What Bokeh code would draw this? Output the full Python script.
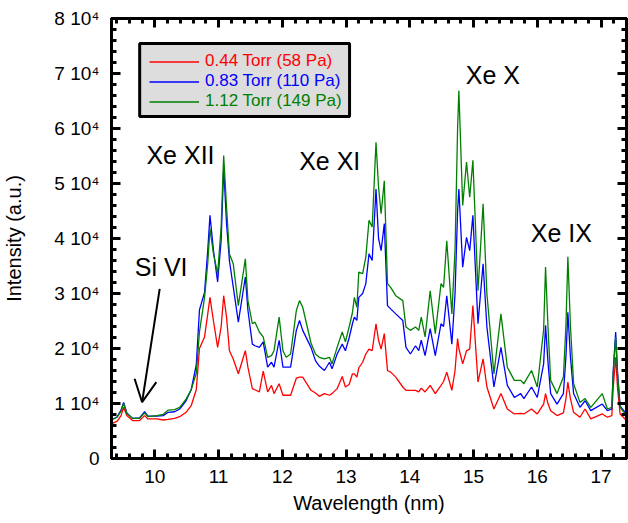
from bokeh.plotting import figure
from bokeh.models import (Range1d, SingleIntervalTicker, LinearAxis, Legend, LegendItem,
                          Label, Arrow, OpenHead, CustomJSTickFormatter, BoxAnnotation)
from bokeh.embed import file_html
from bokeh.resources import INLINE

# EUV emission spectra of a xenon discharge at three pressures
wavelength = [
    9.32, 9.41, 9.47, 9.51, 9.56, 9.65, 9.76, 9.84, 9.89, 10.03,
    10.13, 10.21, 10.31, 10.39, 10.49, 10.57, 10.65, 10.70, 10.78, 10.83,
    10.865, 10.92, 10.985, 11.04, 11.08, 11.125, 11.17, 11.23, 11.31, 11.42,
    11.46, 11.53, 11.57, 11.64, 11.70, 11.77, 11.83, 11.87, 11.95, 12.01,
    12.06, 12.13, 12.22, 12.27, 12.32, 12.45, 12.52, 12.58, 12.66, 12.74,
    12.78, 12.86, 12.94, 12.99, 13.05, 13.10, 13.13, 13.17, 13.20, 13.26,
    13.31, 13.36, 13.41, 13.47, 13.51, 13.55, 13.60, 13.65, 13.70, 13.78,
    13.89, 13.94, 14.01, 14.09, 14.14, 14.18, 14.24, 14.32, 14.40, 14.49,
    14.53, 14.58, 14.66, 14.71, 14.75, 14.77, 14.83, 14.89, 14.94, 14.99,
    15.07, 15.15, 15.21, 15.32, 15.43, 15.53, 15.64, 15.74, 15.79, 15.91,
    16.00, 16.10, 16.13, 16.17, 16.21, 16.31, 16.41, 16.45, 16.48, 16.52,
    16.57, 16.67, 16.75, 16.84, 17.02, 17.10, 17.17, 17.19, 17.23, 17.26,
    17.30, 17.40,
]

intensity_044_torr = [
    6300, 6800, 7800, 9300, 7800, 6900, 6900, 7800, 7200, 7200,
    7000, 7100, 7300, 7600, 8400, 9600, 12500, 20000, 22100, 26300,
    29300, 25000, 20200, 23900, 29600, 25700, 19600, 18100, 15400, 19600,
    16600, 12700, 12500, 12100, 15900, 12100, 13300, 11800, 13600, 11500,
    11500, 11500, 14600, 14800, 14800, 12400, 11900, 11300, 11800, 11500,
    11800, 12700, 14900, 13000, 13500, 15400, 15400, 14800, 16500, 17500,
    19000, 19900, 19600, 24500, 21500, 19900, 22700, 16000, 15700, 14800,
    13000, 12400, 12400, 12400, 12100, 12800, 12100, 13300, 11800, 13300,
    14000, 15700, 12400, 16000, 21800, 20000, 17200, 19600, 19900, 27800,
    13900, 18100, 13000, 9000, 11800, 9000, 8100, 8200, 8100, 9000,
    8100, 9900, 11800, 9900, 8700, 7800, 8300, 10900, 13900, 10900,
    8400, 7500, 9000, 7200, 8100, 7500, 7800, 12700, 18400, 12700,
    8100, 6900,
]

intensity_083_torr = [
    7000, 7600, 8800, 10200, 8300, 7300, 7400, 8500, 7700, 7700,
    7800, 8400, 8500, 9000, 10500, 12500, 17000, 27000, 30200, 37800,
    44200, 37800, 32100, 39600, 53000, 42700, 36000, 31200, 24800, 33000,
    27000, 20800, 20500, 20200, 21200, 16600, 17500, 16600, 21500, 16600,
    16600, 16600, 23300, 25100, 23300, 20200, 17800, 16800, 16000, 17500,
    16300, 19000, 20800, 19600, 22000, 24500, 25700, 25100, 29300, 30000,
    31800, 37200, 36000, 49000, 40000, 37800, 42700, 27800, 27200, 26300,
    25100, 20200, 19000, 20500, 19600, 21500, 18700, 23600, 18700, 24500,
    24000, 29600, 20800, 30000, 45000, 49000, 34800, 40200, 37800, 44200,
    24500, 35400, 23900, 13000, 20200, 13300, 11100, 11800, 10900, 13000,
    11100, 17200, 24200, 17200, 11800, 9900, 11800, 18500, 26600, 18500,
    11800, 9300, 10500, 8700, 9900, 8700, 9000, 15600, 23000, 15600,
    9500, 8100,
]

intensity_112_torr = [
    7000, 7500, 8600, 10000, 8200, 7300, 7300, 8300, 7600, 7800,
    8000, 8800, 8900, 9300, 10800, 12500, 15500, 23000, 29300, 35500,
    41800, 37200, 33600, 42100, 55100, 45700, 37200, 35400, 27800, 36300,
    28700, 24500, 24800, 23000, 22100, 18400, 18700, 19600, 25700, 19600,
    18400, 19000, 26900, 28700, 27500, 21000, 19000, 18400, 18100, 18400,
    17200, 20200, 23000, 21200, 24000, 26500, 29300, 27500, 33900, 33600,
    36600, 43300, 42100, 57500, 49300, 44500, 50500, 31800, 31100, 29600,
    28700, 23900, 23300, 23900, 23300, 25700, 22100, 30500, 22700, 31800,
    31100, 39600, 26300, 38000, 60000, 66900, 46000, 53900, 47500, 54200,
    30500, 46300, 29900, 15400, 26300, 16600, 14200, 14200, 13600, 16000,
    13000, 23400, 34800, 23400, 14200, 11800, 14800, 24200, 36700, 24200,
    13600, 10200, 10900, 9300, 11800, 9000, 9300, 15100, 22100, 15100,
    9300, 7800,
]

series_labels = ["0.44 Torr (58 Pa)", "0.83 Torr (110 Pa)", "1.12 Torr (149 Pa)"]
series_colors = ["#FF0000", "#0000FF", "#008000"]

FONT = "Liberation Sans"

p = figure(width=628, height=523, output_backend="svg", toolbar_location=None,
           x_range=Range1d(9.32, 17.4), y_range=Range1d(0, 80000),
           x_axis_type=None, y_axis_type=None,
           min_border_left=110, min_border_right=2, min_border_top=18,
           min_border_bottom=65)
p.background_fill_color = "white"
p.border_fill_color = "white"
p.outline_line_color = "black"
p.outline_line_width = 3
p.xgrid.visible = False
p.ygrid.visible = False

x_ticker = SingleIntervalTicker(interval=1, num_minor_ticks=5)
y_ticker = SingleIntervalTicker(interval=10000, num_minor_ticks=5)
y_format = CustomJSTickFormatter(code="""
    if (tick == 0) { return "0"; }
    return (tick / 10000).toFixed(0) + " 10\u2074";
""")
blank = CustomJSTickFormatter(code="return '';")


def style_axis(ax):
    ax.axis_line_width = 3
    ax.major_tick_in = 9
    ax.major_tick_out = 0
    ax.minor_tick_in = 5
    ax.minor_tick_out = 0
    ax.major_tick_line_width = 3
    ax.minor_tick_line_width = 3
    ax.major_label_text_font = FONT
    ax.major_label_text_font_size = "19px"
    ax.major_label_text_color = "black"
    ax.axis_label_text_font = FONT
    ax.axis_label_text_font_size = "20px"
    ax.axis_label_text_font_style = "normal"
    ax.axis_label_text_color = "black"


xb = LinearAxis(ticker=x_ticker, axis_label="Wavelength (nm)")
style_axis(xb)
xb.major_label_standoff = 11
xb.axis_label_standoff = 6
p.add_layout(xb, "below")

yl = LinearAxis(ticker=y_ticker, formatter=y_format, axis_label="Intensity (a.u.)")
style_axis(yl)
yl.major_label_standoff = 12
yl.axis_label_standoff = 26
p.add_layout(yl, "left")

xt = LinearAxis(ticker=x_ticker, formatter=blank)
style_axis(xt)
xt.major_label_standoff = 0
xt.major_label_text_font_size = "0px"
p.add_layout(xt, "above")

yr = LinearAxis(ticker=y_ticker, formatter=blank)
style_axis(yr)
yr.major_label_standoff = 0
yr.major_label_text_font_size = "0px"
p.add_layout(yr, "right")

# grey legend panel with a heavy black frame
p.add_layout(BoxAnnotation(left=9.762, right=13.055, bottom=62180, top=75450,
                           fill_color="#DDDDDD", fill_alpha=1.0,
                           line_color="black", line_width=3, line_alpha=1.0,
                           level="underlay"))

renderers = []
for ys, col in zip([intensity_044_torr, intensity_083_torr, intensity_112_torr], series_colors):
    renderers.append(p.line(wavelength, ys, line_color=col, line_width=1.3))

# one legend row per series so each caption takes its line colour
row_bottoms = [387, 367, 347]
for lab, col, r, yb in zip(series_labels, series_colors, renderers, row_bottoms):
    p.add_layout(Legend(items=[LegendItem(label=lab, renderers=[r])],
                        location=(38, yb), orientation="vertical",
                        background_fill_alpha=0.0, border_line_alpha=0.0,
                        padding=0, margin=0, spacing=0, glyph_width=50, glyph_height=17,
                        label_standoff=6, label_height=17,
                        label_text_font=FONT, label_text_font_size="17px",
                        label_text_color=col), "center")

# ion stage annotations
for txt, xx, yy in [("Xe XII", 9.868, 55200), ("Xe XI", 12.264, 54100),
                    ("Xe X", 14.879, 69700), ("Xe IX", 15.897, 41000),
                    ("Si VI", 9.685, 34800)]:
    p.add_layout(Label(x=xx, y=yy, text=txt, text_font=FONT, text_font_size="25px",
                       text_color="black", text_baseline="alphabetic", text_align="left"))

p.add_layout(Arrow(x_start=10.076, y_start=30855, x_end=9.80, y_end=10236,
                   line_color="black", line_width=2,
                   end=OpenHead(size=22, line_color="black", line_width=2)))

open("out.html", "w").write(file_html(p, INLINE))
